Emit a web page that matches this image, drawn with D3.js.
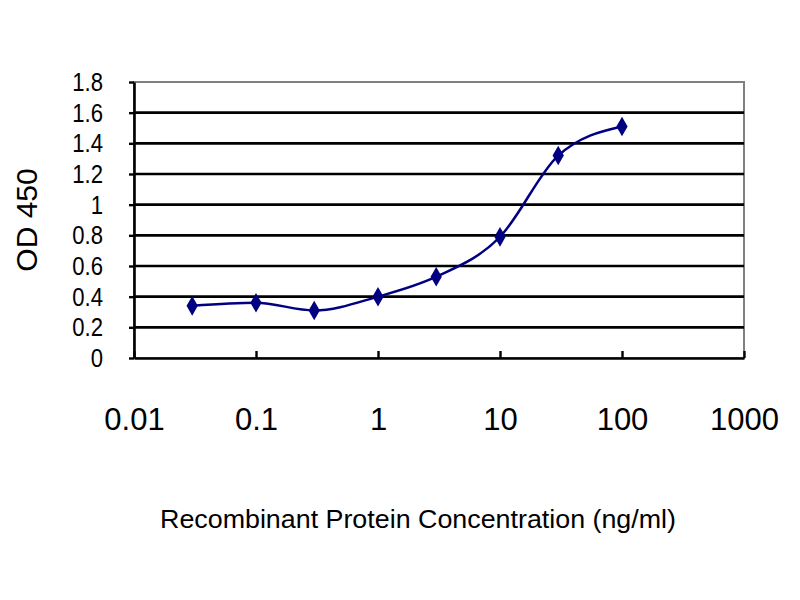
<!DOCTYPE html>
<html>
<head>
<meta charset="utf-8">
<script src="https://cdn.jsdelivr.net/npm/d3@7"></script>
<style>
  body { margin: 0; background: #fff; }
  text { font-family: "Liberation Sans", Arial, sans-serif; fill: #000; }
</style>
</head>
<body>
<div id="chart-area"></div>
<script>
// concentration (ng/ml) and OD 450 readings
var concentrations = [0.03, 0.1, 0.3, 1, 3, 10, 30, 100];
var odValues = [0.34, 0.36, 0.31, 0.40, 0.53, 0.79, 1.32, 1.51];

var xTicks = [0.01, 0.1, 1, 10, 100, 1000];
var xTickLabels = ["0.01", "0.1", "1", "10", "100", "1000"];
var yTicks = [0, 0.2, 0.4, 0.6, 0.8, 1, 1.2, 1.4, 1.6, 1.8];
var yTickLabels = ["0", "0.2", "0.4", "0.6", "0.8", "1", "1.2", "1.4", "1.6", "1.8"];

var margin = { left: 134, right: 56, top: 82, bottom: 242 };
var width = 800 - margin.left - margin.right;
var height = 600 - margin.top - margin.bottom;

var svg = d3.select("#chart-area")
    .append("svg")
        .attr("width", 800)
        .attr("height", 600);

var g = svg.append("g")
        .attr("transform", "translate(" + margin.left + "," + margin.top + ")");

var xscale = d3.scaleLog()
                .domain([0.01, 1000])
                .range([0, width]);

var yscale = d3.scaleLinear()
                .domain([0, 1.8])
                .range([height, 0]);

// plot border (top / right are grey)
g.append("rect")
    .attr("x", 0)
    .attr("y", 0)
    .attr("width", width)
    .attr("height", height)
    .attr("fill", "none")
    .attr("stroke", "#808080")
    .attr("stroke-width", 2);

// horizontal gridlines
g.selectAll("line.grid")
    .data(yTicks.slice(1, yTicks.length - 1))
    .enter()
    .append("line")
        .attr("class", "grid")
        .attr("x1", 0)
        .attr("x2", width)
        .attr("y1", function(d){ return yscale(d); })
        .attr("y2", function(d){ return yscale(d); })
        .attr("stroke", "#000")
        .attr("stroke-width", 2.6);

var leftAxisCall = d3.axisLeft(yscale)
    .tickValues(yTicks)
    .tickFormat(function(d, i){ return yTickLabels[i]; })
    .tickSizeInner(5)
    .tickSizeOuter(0)
    .tickPadding(26);

var bottomAxisCall = d3.axisBottom(xscale)
    .tickValues(xTicks)
    .tickFormat(function(d, i){ return xTickLabels[i]; })
    .tickSizeInner(-7)
    .tickSizeOuter(0)
    .tickPadding(50);

var leftAxis = g.append("g")
    .attr("class", "left-Axis")
    .call(leftAxisCall);

var bottomAxis = g.append("g")
    .attr("class", "bottom-Axis")
    .attr("transform", "translate(0," + height + ")")
    .call(bottomAxisCall);

[leftAxis, bottomAxis].forEach(function(a){
    a.select(".domain").attr("stroke", "#000").attr("stroke-width", 2.6);
    a.selectAll(".tick line").attr("stroke", "#000").attr("stroke-width", 2.4);
    a.selectAll(".tick text").attr("fill", "#000");
});
// y labels are tall and narrow in the original
var squeeze = 0.85;
leftAxis.selectAll(".tick text")
    .style("font-size", "26px")
    .attr("dy", "0.33em")
    .attr("x", -31 / squeeze)
    .attr("transform", "scale(" + squeeze + ",1)");
bottomAxis.selectAll(".tick text").style("font-size", "31px");

// data line
var line = d3.line()
    .x(function(d, i){ return xscale(concentrations[i]); })
    .y(function(d){ return yscale(d); })
    .curve(d3.curveMonotoneX);

g.append("path")
    .datum(odValues)
    .attr("d", line)
    .attr("fill", "none")
    .attr("stroke", "#000080")
    .attr("stroke-width", 2.5);

g.selectAll("path.marker")
    .data(odValues)
    .enter()
    .append("path")
        .attr("class", "marker")
        .attr("d", d3.symbol().type(d3.symbolDiamond).size(110))
        .attr("transform", function(d, i){
            return "translate(" + xscale(concentrations[i]) + "," + yscale(d) + ")";
        })
        .attr("fill", "#000080");

// axis titles
svg.append("text")
    .attr("class", "Y-Axis-lable")
    .attr("transform", "translate(37," + (margin.top + height / 2) + ") rotate(-90)")
    .attr("text-anchor", "middle")
    .style("font-size", "30px")
    .text("OD 450");

svg.append("text")
    .attr("class", "X-Axis-lable")
    .attr("x", 418)
    .attr("y", 528)
    .attr("text-anchor", "middle")
    .attr("textLength", 516)
    .attr("lengthAdjust", "spacingAndGlyphs")
    .style("font-size", "25px")
    .text("Recombinant Protein Concentration (ng/ml)");
</script>
</body>
</html>
